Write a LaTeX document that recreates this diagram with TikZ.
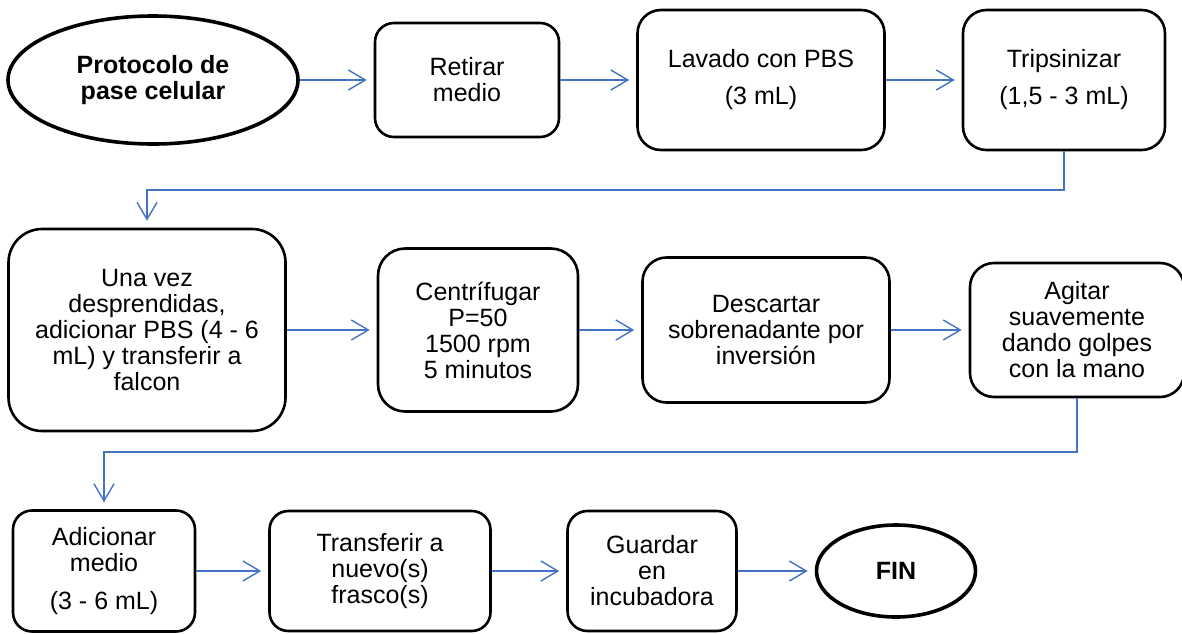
\documentclass[tikz,border=0pt]{standalone}
\usepackage{fontspec}
\setmainfont{Liberation Sans}
\usetikzlibrary{shapes.geometric, arrows.meta, positioning}
\definecolor{azulflecha}{HTML}{4472C4}
\tikzset{
    % Pasos del protocolo - rectangulos redondeados
    paso/.style={rectangle, draw=black, line width=1.3pt, rounded corners=#1, align=center, inner sep=2pt, font=\fontsize{12.5}{13}\selectfont},
    paso/.default=11pt,
    % Inicio y fin - elipses
    terminal/.style={ellipse, draw=black, line width=1.8pt, align=center, inner sep=0pt, font=\bfseries\fontsize{12.5}{13}\selectfont},
    % Conectores - flechas azules abiertas
    flecha/.style={draw=azulflecha, line width=0.7pt, -{Straight Barb[length=8.5pt,width=10pt]}, shorten >=3.5pt}
}

\begin{document}
\begin{tikzpicture}[x=0.5pt, y=-0.5pt]
    \useasboundingbox (0,0) rectangle (1182,633);

    % --- Fila 1 ---
    \node[terminal, minimum width=145pt, minimum height=64pt] (inicio) at (153,80) {Protocolo de\\pase celular};
    \node[paso=9.5pt, minimum width=92pt, minimum height=57pt] (retirar) at (467,80) {Retirar\\medio};
    \node[paso=11.7pt, minimum width=123.5pt, minimum height=70pt] (lavado) at (761,80) {Lavado con PBS\\[5.5pt](3 mL)};
    \node[paso=11.7pt, minimum width=101pt, minimum height=70pt] (tripsina) at (1064,80) {Tripsinizar\\[5.5pt](1,5 - 3 mL)};

    % --- Fila 2 ---
    \node[paso=16.8pt, minimum width=138.5pt, minimum height=101pt] (desprender) at (147,330) {Una vez\\desprendidas,\\adicionar PBS (4 - 6\\mL) y transferir a\\falcon};
    \node[paso=13.6pt, minimum width=100pt, minimum height=81.5pt] (centrifugar) at (478,330) {Centrífugar\\P=50\\1500 rpm\\5 minutos};
    \node[paso=12pt, minimum width=123.5pt, minimum height=72.5pt] (descartar) at (766,330) {Descartar\\sobrenadante por\\inversión};
    \node[paso=12pt, minimum width=107pt, minimum height=67pt] (agitar) at (1077,330) {Agitar\\suavemente\\dando golpes\\con la mano};

    % --- Fila 3 ---
    \node[paso=9.5pt, minimum width=91pt, minimum height=60.5pt] (medio) at (104,571) {Adicionar\\medio\\[6pt](3 - 6 mL)};
    \node[paso=9.4pt, minimum width=110.5pt, minimum height=60pt] (frasco) at (380,571) {Transferir a\\nuevo(s)\\frasco(s)};
    \node[paso=10pt, minimum width=84.5pt, minimum height=60pt] (guardar) at (652,571) {Guardar\\en\\incubadora};
    \node[terminal, minimum width=79.5pt, minimum height=46pt] (fin) at (896,571) {FIN};

    % --- Codos de los conectores ---
    \coordinate (codo1) at (147,190);
    \coordinate (codo2) at (104,452);

    % --- Conectores ---
    \draw[flecha] (inicio) -- (retirar);
    \draw[flecha] (retirar) -- (lavado);
    \draw[flecha] (lavado) -- (tripsina);
    \draw[flecha] (tripsina.south) |- (codo1) -- (desprender.north);
    \draw[flecha] (desprender) -- (centrifugar);
    \draw[flecha] (centrifugar) -- (descartar);
    \draw[flecha] (descartar) -- (agitar);
    \draw[flecha] (agitar.south) |- (codo2) -- (medio.north);
    \draw[flecha] (medio) -- (frasco);
    \draw[flecha] (frasco) -- (guardar);
    \draw[flecha] (guardar) -- (fin);

\end{tikzpicture}
\end{document}
